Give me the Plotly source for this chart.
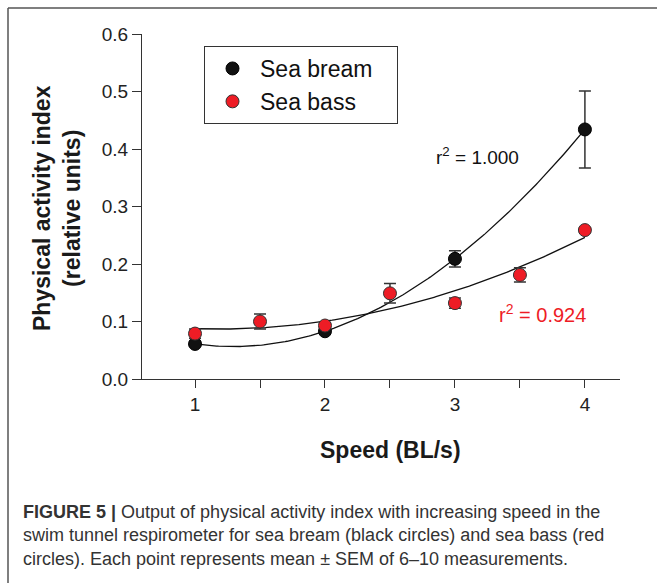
import numpy as np
import plotly.graph_objects as go

# ---- data ----
bream_speed = [1, 2, 3, 4]
bream_index = [0.061, 0.083, 0.209, 0.434]
bream_sem = [0.004, 0.004, 0.014, 0.067]

bass_speed = [1, 1.5, 2, 2.5, 3, 3.5, 4]
bass_index = [0.079, 0.100, 0.093, 0.149, 0.132, 0.181, 0.259]
bass_sem = [0.008, 0.013, 0.005, 0.017, 0.009, 0.0125, 0.004]

x_tickvals = [1, 2, 3, 4]
x_ticktext = ["1", "2", "3", "4"]

caption_lines = [
    "<b>FIGURE 5 |</b> Output of physical activity index with increasing speed in the",
    "swim tunnel respirometer for sea bream (black circles) and sea bass (red",
    "circles). Each point represents mean \u00b1 SEM of 6\u201310 measurements.",
]

# regression curves derived from the data
xs = np.linspace(min(bream_speed), max(bream_speed), 200)
bream_fit = np.polyval(np.polyfit(bream_speed, bream_index, 3), xs)
bass_fit = np.polyval(np.polyfit(bass_speed, bass_index, 2), xs)

RED = "#EE1C25"
DARK = "#222222"

fig = go.Figure()
fig.add_trace(go.Scatter(x=xs, y=bream_fit, mode="lines",
                         line=dict(color="#111", width=1.3), showlegend=False, hoverinfo="skip"))
fig.add_trace(go.Scatter(x=xs, y=bass_fit, mode="lines",
                         line=dict(color="#111", width=1.3), showlegend=False, hoverinfo="skip"))
fig.add_trace(go.Scatter(
    x=bream_speed, y=bream_index, mode="markers", name="Sea bream\u00a0\u00a0\u00a0",
    marker=dict(color="#111111", size=13, line=dict(color="#000", width=1)),
    error_y=dict(type="data", array=bream_sem, color="#333", thickness=1.5, width=6),
))
fig.add_trace(go.Scatter(
    x=bass_speed, y=bass_index, mode="markers", name="Sea bass",
    marker=dict(color=RED, size=13, line=dict(color="#333", width=1)),
    error_y=dict(type="data", array=bass_sem, color="#333", thickness=1.5, width=6),
))

W, H = 657, 583
L, R, T, B = 142, 37, 34, 204
pw, ph = W - L - R, H - T - B


def px(xp):
    return (xp - L) / pw


def py(yp):
    return (H - B - yp) / ph


annotations = [
    dict(text="Physical activity index<br>(relative units)", x=px(57), y=py(208),
         xref="paper", yref="paper", xanchor="center", yanchor="middle",
         textangle=-90, showarrow=False,
         font=dict(family="Liberation Sans", size=23, color="#1a1a1a", weight="bold")),
    dict(text="<b>Speed (BL/s)</b>", x=px(390), y=py(450), xref="paper", yref="paper",
         xanchor="center", yanchor="middle", showarrow=False,
         font=dict(family="Liberation Sans", size=23, color="#1a1a1a")),
    dict(text="r<sup>2</sup> = 1.000", x=px(477), y=py(156), xref="paper", yref="paper",
         xanchor="center", yanchor="middle", showarrow=False,
         font=dict(family="Liberation Sans", size=19, color="#111")),
    dict(text="r<sup>2</sup> = 0.924", x=px(542), y=py(313), xref="paper", yref="paper",
         xanchor="center", yanchor="middle", showarrow=False,
         font=dict(family="Liberation Sans", size=20, color=RED)),
]
for line, yc in zip(caption_lines, [512, 535, 559]):
    annotations.append(dict(text=line, x=px(21), y=py(yc), xref="paper", yref="paper",
                            xanchor="left", yanchor="middle", showarrow=False,
                            font=dict(family="Liberation Sans", size=18, color="#333")))

shapes = [
    dict(type="line", xref="paper", yref="paper", x0=px(8), x1=px(657), y0=py(8), y1=py(8),
         line=dict(color="#555", width=1.5)),
    dict(type="line", xref="paper", yref="paper", x0=px(8), x1=px(8), y0=py(8), y1=py(583),
         line=dict(color="#555", width=1.5)),
]

fig.update_layout(
    width=W, height=H, margin=dict(l=L, r=R, t=T, b=B, pad=0),
    paper_bgcolor="white", plot_bgcolor="white",
    font=dict(family="Liberation Sans", color=DARK),
    showlegend=True,
    legend=dict(x=px(204), y=py(46), xanchor="left", yanchor="top",
                bordercolor="#333", borderwidth=1, bgcolor="white",
                font=dict(size=23, color="#111"), itemwidth=45, tracegroupgap=0),
    annotations=annotations, shapes=shapes,
    xaxis=dict(range=[0.592, 4.27], tickvals=x_tickvals, ticktext=x_ticktext,
               showline=True, linecolor="#333", linewidth=1.2, ticks="outside",
               ticklen=8, tickcolor="#333", tickwidth=1, showgrid=False, zeroline=False,
               minor=dict(dtick=0.5, tick0=1, ticks="outside", ticklen=8,
                          tickcolor="#333", tickwidth=1, showgrid=False),
               tickfont=dict(size=19, color=DARK)),
    yaxis=dict(range=[0, 0.6], dtick=0.1, tickformat=".1f",
               showline=True, linecolor="#333", linewidth=1.2, ticks="outside",
               ticklen=9, tickcolor="#333", tickwidth=1, showgrid=False, zeroline=False,
               tickfont=dict(size=19, color=DARK)),
)

fig.write_html("out.html")
